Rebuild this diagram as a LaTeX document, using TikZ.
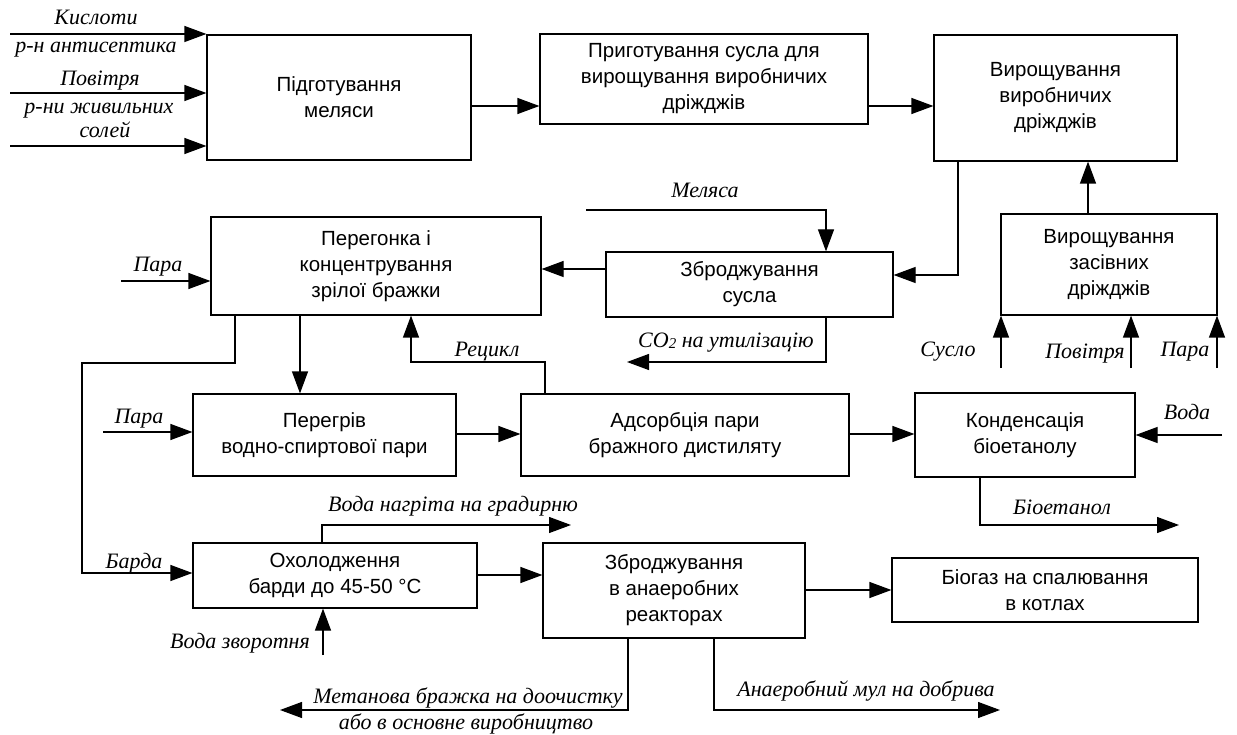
\documentclass[tikz,border=0pt]{standalone}
\usepackage{fontspec}
\setmainfont{Liberation Sans}
\newfontfamily\lblfont{Liberation Serif}
\usetikzlibrary{arrows.meta}

\begin{document}
\begin{tikzpicture}[x=1pt,y=-1pt,
  box/.style={draw, line width=1.2pt, inner sep=0pt, align=center,
    font=\fontsize{20.5}{26}\selectfont},
  lbl/.style={anchor=base, inner sep=0pt,
    font=\lblfont\itshape\fontsize{22}{26}\selectfont},
  arr/.style={line width=1.2pt, -{Triangle[length=22pt,width=16pt]}},
  ln/.style={line width=1.2pt}
]
\useasboundingbox (0,0) rectangle (1237,735);

% process blocks
\node[box, minimum width=264pt, minimum height=125pt] (A) at (339,97.5) {Підготування\\меляси};
\node[box, minimum width=328pt, minimum height=90pt] (B) at (704,79) {Приготування сусла для\\вирощування виробничих\\дріжджів};
\node[box, minimum width=243pt, minimum height=126pt] (C) at (1055.5,98) {Вирощування\\виробничих\\дріжджів};
\node[box, minimum width=216pt, minimum height=101pt] (D) at (1109,264.5) {Вирощування\\засівних\\дріжджів};
\node[box, minimum width=287pt, minimum height=65pt] (E) at (749.5,284.5) {Зброджування\\сусла};
\node[box, minimum width=330pt, minimum height=98pt] (F) at (376,266) {Перегонка і\\концентрування\\зрілої бражки};
\node[box, minimum width=263pt, minimum height=82pt] (H) at (324.5,435) {Перегрів\\водно-спиртової пари};
\node[box, minimum width=328pt, minimum height=82pt] (I) at (685,435) {Адсорбція пари\\бражного дистиляту};
\node[box, minimum width=220pt, minimum height=84pt] (J) at (1025,435) {Конденсація\\біоетанолу};
\node[box, minimum width=284pt, minimum height=65pt] (G) at (335,575.5) {Охолодження\\барди до 45-50 °C};
\node[box, minimum width=262pt, minimum height=95pt] (K) at (674,590.5) {Зброджування\\в анаеробних\\реакторах};
\node[box, minimum width=306pt, minimum height=64pt] (L) at (1045,590) {Біогаз на спалювання\\в котлах};

% free ends and bends of the flows
\coordinate (in1) at (10,34);
\coordinate (in2) at (10,93);
\coordinate (in3) at (10,146);
\coordinate (ab) at (0,106);
\coordinate (cE) at (958,275);
\coordinate (dC) at (1088,0);
\coordinate (s1) at (1001,368);
\coordinate (s2) at (1131,368);
\coordinate (s3) at (1217,368);
\coordinate (m0) at (586,210);
\coordinate (m1) at (826,210);
\coordinate (co) at (826,362);
\coordinate (coe) at (627,362);
\coordinate (ef) at (0,269);
\coordinate (p1) at (121,281);
\coordinate (b1) at (235,363);
\coordinate (b2) at (82,363);
\coordinate (b3) at (82,573);
\coordinate (fh) at (300,0);
\coordinate (r1) at (545,362);
\coordinate (r2) at (411,362);
\coordinate (p2) at (103,432);
\coordinate (hi) at (0,434);
\coordinate (w1) at (1222,435);
\coordinate (bi1) at (980,525);
\coordinate (bi2) at (1179,525);
\coordinate (v1) at (322,525);
\coordinate (v2) at (571,525);
\coordinate (gk) at (0,575);
\coordinate (kl) at (0,590);
\coordinate (vz) at (323,655);
\coordinate (mb1) at (628,710);
\coordinate (mb2) at (280,710);
\coordinate (am1) at (714,710);
\coordinate (am2) at (1000,710);

% flows
\draw[arr] (in1) -- (in1 -| A.west);
\draw[arr] (in2) -- (in2 -| A.west);
\draw[arr] (in3) -- (in3 -| A.west);
\draw[arr] (A.east |- ab) -- (B.west |- ab);
\draw[arr] (B.east |- ab) -- (C.west |- ab);
\draw[arr] (cE |- C.south) -- (cE) -- (cE -| E.east);
\draw[arr] (D.north -| dC) -- (C.south -| dC);
\draw[arr] (s1) -- (s1 |- D.south);
\draw[arr] (s2) -- (s2 |- D.south);
\draw[arr] (s3) -- (s3 |- D.south);
\draw[arr] (m0) -- (m1) -- (m1 |- E.north);
\draw[arr] (co |- E.south) -- (co) -- (coe);
\draw[arr] (E.west |- ef) -- (F.east |- ef);
\draw[arr] (p1) -- (p1 -| F.west);
\draw[arr] (b1 |- F.south) -- (b1) -- (b2) -- (b3) -- (b3 -| G.west);
\draw[arr] (F.south -| fh) -- (H.north -| fh);
\draw[arr] (r1 |- I.north) -- (r1) -- (r2) -- (r2 |- F.south);
\draw[arr] (p2) -- (p2 -| H.west);
\draw[arr] (H.east |- hi) -- (I.west |- hi);
\draw[arr] (I.east |- hi) -- (J.west |- hi);
\draw[arr] (w1) -- (w1 -| J.east);
\draw[arr] (bi1 |- J.south) -- (bi1) -- (bi2);
\draw[arr] (v1 |- G.north) -- (v1) -- (v2);
\draw[arr] (G.east |- gk) -- (K.west |- gk);
\draw[arr] (K.east |- kl) -- (L.west |- kl);
\draw[arr] (vz) -- (vz |- G.south);
\draw[arr] (mb1 |- K.south) -- (mb1) -- (mb2);
\draw[arr] (am1 |- K.south) -- (am1) -- (am2);

% flow labels
\node[lbl] (t1) at (96,25) {Кислоти};
\node[lbl] (t2) at (96,53) {р-н антисептика};
\node[lbl] (t3) at (100,86) {Повітря};
\node[lbl] (t4) at (99,114) {р-ни живильних};
\node[lbl] (t5) at (105,138) {солей};
\node[lbl] (t6) at (705,198) {Меляса};
\node[lbl] (t7) at (726,348) {CO\raisebox{-1pt}{\fontsize{15}{15}\selectfont 2} на утилізацію};
\node[lbl] (t8) at (948,356) {Сусло};
\node[lbl] (t9) at (1085,359) {Повітря};
\node[lbl] (t10) at (1185,356) {Пара};
\node[lbl] (t11) at (158,272) {Пара};
\node[lbl] (t12) at (487,356) {Рецикл};
\node[lbl] (t13) at (139,423) {Пара};
\node[lbl] (t14) at (1187,419) {Вода};
\node[lbl] (t15) at (1062,514) {Біоетанол};
\node[lbl] (t16) at (453,511) {Вода нагріта на градирню};
\node[lbl] (t17) at (134,568) {Барда};
\node[lbl] (t18) at (240,648) {Вода зворотня};
\node[lbl] (t19) at (468,703) {Метанова бражка на доочистку};
\node[lbl] (t20) at (466,729) {або в основне виробництво};
\node[lbl] (t21) at (866,696) {Анаеробний мул на добрива};
\end{tikzpicture}
\end{document}
